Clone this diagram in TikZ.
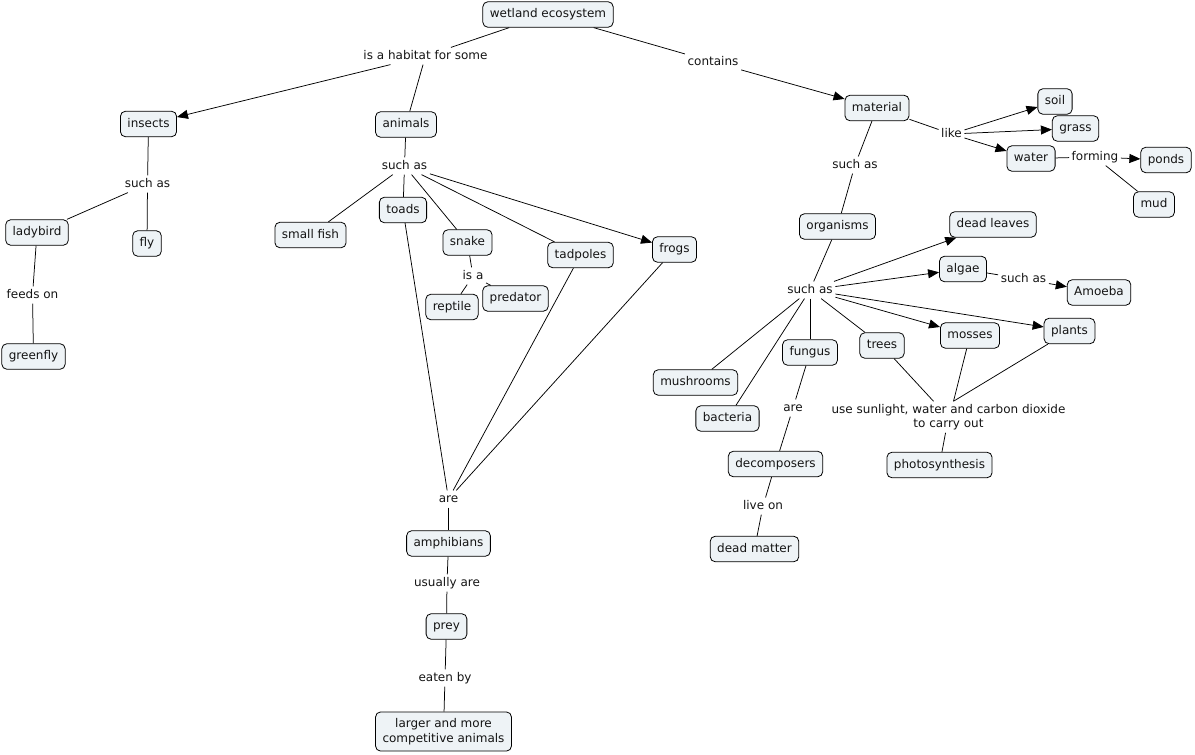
\documentclass[tikz,border=0pt]{standalone}
\usepackage{fontspec}
\setmainfont{DejaVu Sans}
\usetikzlibrary{arrows.meta}
\definecolor{boxfill}{RGB}{238,243,246}
\definecolor{ink}{RGB}{20,20,20}
\begin{document}
\begin{tikzpicture}[x=1pt,y=-1pt,
  cfont/.style={font=\fontsize{12}{14.5}\selectfont, text=ink},
  concept/.style={cfont, draw=black, line width=0.8pt, rounded corners=5pt, fill=boxfill,
    inner xsep=7pt, inner ysep=0pt, minimum height=25.5pt, text height=9.2pt, text depth=2.6pt},
  concept2/.style={cfont, draw=black, line width=0.8pt, rounded corners=5pt, fill=boxfill,
    inner xsep=7pt, inner ysep=6.5pt, align=center},
  lab/.style={cfont, inner sep=2.5pt, text height=9.2pt, text depth=2.6pt},
  lab2/.style={cfont, inner sep=2.5pt, align=center},
  conn/.style={line width=0.75pt, draw=black},
  arr/.style={conn, -{Triangle[length=11pt,width=9pt]}}]
\useasboundingbox (0,0) rectangle (1195,755);
% concepts
\node[concept] (we) at (548,14.5) {wetland ecosystem};
\node[concept] (insects) at (148.5,124) {insects};
\node[concept] (animals) at (406,124.5) {animals};
\node[concept] (material) at (877,108) {material};
\node[concept] (soil) at (1055,101.5) {soil};
\node[concept] (grass) at (1075.5,128.5) {grass};
\node[concept] (water) at (1031,158.5) {water};
\node[concept] (ponds) at (1166,160) {ponds};
\node[concept] (mud) at (1154,204.5) {mud};
\node[concept] (organisms) at (837.5,226.5) {organisms};
\node[concept] (deadleaves) at (993,224.5) {dead leaves};
\node[concept] (algae) at (963,269) {algae};
\node[concept] (amoeba) at (1099,292.5) {Amoeba};
\node[concept] (plants) at (1069.5,331) {plants};
\node[concept] (mosses) at (970,335.5) {mosses};
\node[concept] (trees) at (882,345.5) {trees};
\node[concept] (fungus) at (810,352.5) {fungus};
\node[concept] (mushrooms) at (695.5,382.5) {mushrooms};
\node[concept] (bacteria) at (727.5,418.5) {bacteria};
\node[concept] (decomposers) at (775.5,464) {decomposers};
\node[concept] (deadmatter) at (754.5,549) {dead matter};
\node[concept] (photo) at (939.5,465) {photosynthesis};
\node[concept] (ladybird) at (37,232.5) {ladybird};
\node[concept] (fly) at (147,243.5) {fly};
\node[concept] (greenfly) at (33.5,356.5) {greenfly};
\node[concept] (smallfish) at (310.5,235) {small fish};
\node[concept] (toads) at (403,210) {toads};
\node[concept] (snake) at (467.5,242.5) {snake};
\node[concept] (tadpoles) at (580.5,255) {tadpoles};
\node[concept] (frogs) at (674.5,249.5) {frogs};
\node[concept] (reptile) at (452,307) {reptile};
\node[concept] (predator) at (515.5,298.5) {predator};
\node[concept] (amphibians) at (448.5,543.5) {amphibians};
\node[concept] (prey) at (446.5,626.5) {prey};
\node[concept2] (larger) at (443.5,731.5) {larger and more\\competitive animals};
% linking phrases
\node[lab] (l1) at (425.5,56) {is a habitat for some};
\node[lab] (l2) at (713,62) {contains};
\node[lab] (l3) at (147.5,184) {such as};
\node[lab] (l4) at (32.5,295) {feeds on};
\node[lab] (l5) at (404.5,166) {such as};
\node[lab] (l6) at (473,276) {is a};
\node[lab] (l7) at (448.5,499) {are};
\node[lab] (l8) at (447,583) {usually are};
\node[lab] (l9) at (445,678) {eaten by};
\node[lab] (l10) at (951.5,134) {like};
\node[lab] (l11) at (1095,157) {forming};
\node[lab] (l12) at (855,165) {such as};
\node[lab] (l13) at (810,290) {such as};
\node[lab] (l14) at (1023.5,279) {such as};
\node[lab] (l15) at (793,408) {are};
\node[lab] (l16) at (763,506) {live on};
\node[lab2] (l17) at (948.5,417) {use sunlight, water and carbon dioxide\\to carry out};
% connectors
\draw[conn] (we) -- (l1);
\draw[arr] (l1) -- (insects);
\draw[conn] (l1) -- (animals);
\draw[conn] (we) -- (l2);
\draw[arr] (l2) -- (material);
\draw[conn] (insects) -- (l3);
\draw[conn] (l3) -- (ladybird);
\draw[conn] (l3) -- (fly);
\draw[conn] (ladybird) -- (l4);
\draw[conn] (l4) -- (greenfly);
\draw[conn] (animals) -- (l5);
\draw[conn] (l5) -- (smallfish);
\draw[conn] (l5) -- (toads);
\draw[conn] (l5) -- (snake);
\draw[conn] (l5) -- (tadpoles);
\draw[arr] (l5) -- (frogs);
\draw[conn] (snake) -- (l6);
\draw[conn] (l6) -- (reptile);
\draw[conn] (l6) -- (predator);
\draw[conn] (toads) -- (l7);
\draw[conn] (tadpoles) -- (l7);
\draw[conn] (frogs) -- (l7);
\draw[conn] (l7) -- (amphibians);
\draw[conn] (amphibians) -- (l8);
\draw[conn] (l8) -- (prey);
\draw[conn] (prey) -- (l9);
\draw[conn] (l9) -- (larger);
\draw[conn] (material) -- (l10);
\draw[arr] (l10) -- (soil);
\draw[arr] (l10) -- (grass);
\draw[arr] (l10) -- (water);
\draw[conn] (water) -- (l11);
\draw[arr] (l11) -- (ponds);
\draw[conn] (l11) -- (mud);
\draw[conn] (material) -- (l12);
\draw[conn] (l12) -- (organisms);
\draw[conn] (organisms) -- (l13);
\draw[arr] (l13) -- (deadleaves);
\draw[arr] (l13) -- (algae);
\draw[arr] (l13) -- (mosses);
\draw[arr] (l13) -- (plants);
\draw[conn] (l13) -- (mushrooms);
\draw[conn] (l13) -- (bacteria);
\draw[conn] (l13) -- (fungus);
\draw[conn] (l13) -- (trees);
\draw[conn] (algae) -- (l14);
\draw[arr] (l14) -- (amoeba);
\draw[conn] (fungus) -- (l15);
\draw[conn] (l15) -- (decomposers);
\draw[conn] (decomposers) -- (l16);
\draw[conn] (l16) -- (deadmatter);
\draw[conn] (trees) -- ([xshift=-15pt]l17.north);
\draw[conn] (mosses) -- ([xshift=5pt]l17.north);
\draw[conn] (plants) -- ([xshift=5pt]l17.north);
\draw[conn] (l17) -- (photo);
\end{tikzpicture}
\end{document}
